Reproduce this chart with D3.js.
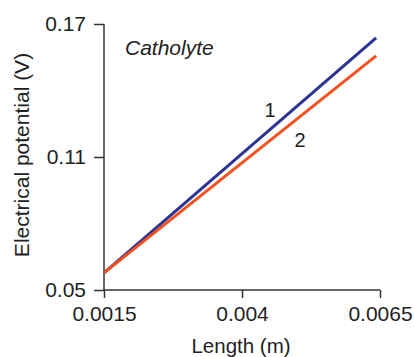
<!DOCTYPE html>
<html><head><meta charset="utf-8">
<script src="https://cdn.jsdelivr.net/npm/d3@7"></script>
<style>body{margin:0;background:#fff}text{font-family:"Liberation Sans",Arial,sans-serif}</style>
</head><body>
<svg id="c" width="414" height="357"></svg>
<script>
const xTicks = [0.0015, 0.004, 0.0065];
const yTicks = [0.05, 0.11, 0.17];
const lengthX = [0.0015, 0.00643];
const series1 = [0.0577, 0.1637];
const series2 = [0.0577, 0.1556];
const seriesNames = ["1", "2"];

const FS = 21;
const svg = d3.select("#c");
const x = d3.scaleLinear().domain([0.0015, 0.0065]).range([104, 380]);
const y = d3.scaleLinear().domain([0.05, 0.17]).range([290, 24]);

const xAxis = svg.append("g").attr("transform", "translate(0,290)")
  .call(d3.axisBottom(x).tickValues(xTicks).tickFormat(d => String(d)).tickSize(8).tickPadding(8));
const yAxis = svg.append("g").attr("transform", "translate(104,0)")
  .call(d3.axisLeft(y).tickValues(yTicks).tickFormat(d => String(d)).tickSize(10).tickPadding(8));
[xAxis, yAxis].forEach(a => {
  a.select(".domain").attr("stroke", "#333").attr("stroke-width", 1.5);
  a.selectAll(".tick line").attr("stroke", "#333").attr("stroke-width", 1.5);
  a.selectAll(".tick text").attr("font-size", FS).attr("fill", "#222")
    .attr("font-family", '"Liberation Sans",Arial,sans-serif');
});
xAxis.select(".domain").attr("d", `M${x.range()[0]},0H${x.range()[1]}`);
yAxis.select(".domain").attr("d", `M0,${y.range()[0]}V${y.range()[1]}`);

const line = d3.line().x(d => x(d[0])).y(d => y(d[1]));
const colors = ["#2b3394", "#f4511e"];
[series1, series2].forEach((s, i) => {
  svg.append("path").datum(lengthX.map((v, j) => [v, s[j]]))
    .attr("d", line).attr("fill", "none").attr("stroke", colors[i]).attr("stroke-width", 3);
});

svg.append("text").attr("x", 270).attr("y", 117).attr("font-size", 20).attr("fill", "#222")
  .attr("text-anchor", "middle").text(seriesNames[0]);
svg.append("text").attr("x", 300).attr("y", 147).attr("font-size", 20).attr("fill", "#222")
  .attr("text-anchor", "middle").text(seriesNames[1]);
svg.append("text").attr("x", 125).attr("y", 55).attr("font-size", FS).attr("font-style", "italic")
  .attr("fill", "#222").text("Catholyte");
svg.append("text").attr("x", 241).attr("y", 353).attr("font-size", 20.5).attr("fill", "#222")
  .attr("text-anchor", "middle").text("Length (m)");
svg.append("text").attr("transform", "translate(29,155) rotate(-90)").attr("font-size", FS)
  .attr("fill", "#222").attr("text-anchor", "middle").text("Electrical potential (V)");
</script>
</body></html>
